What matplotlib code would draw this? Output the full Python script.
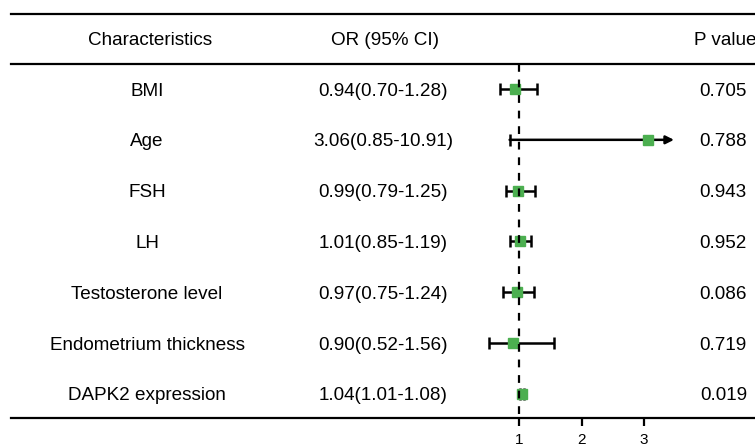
import matplotlib
matplotlib.use("Agg")
import matplotlib.pyplot as plt
from matplotlib.transforms import blended_transform_factory

plt.rcParams['font.family'] = ['Liberation Sans', 'DejaVu Sans']

# data
characteristics = ["BMI", "Age", "FSH", "LH", "Testosterone level",
                   "Endometrium thickness", "DAPK2 expression"]
or_values = [0.94, 3.06, 0.99, 1.01, 0.97, 0.90, 1.04]
ci_low = [0.70, 0.85, 0.79, 0.85, 0.75, 0.52, 1.01]
ci_high = [1.28, 10.91, 1.25, 1.19, 1.24, 1.56, 1.08]
p_values = ["0.705", "0.788", "0.943", "0.952", "0.086", "0.719", "0.019"]
x_ticks = [1, 2, 3]
x_clip = 3.48   # where the long CI is cut off with an arrow

green = "#4caf50"

fig = plt.figure(figsize=(7.55, 4.44), dpi=100)
ax = fig.add_axes([0, 26 / 444, 1, 418 / 444])
ax.set_xlim(-7.304, 4.776)
ax.set_ylim(6.473, -1.751)

for s in ["top", "left", "right"]:
    ax.spines[s].set_visible(False)
ax.spines["bottom"].set_linewidth(1.6)
ax.spines["bottom"].set_bounds(-7.13, 4.776)
ax.set_yticks([])
ax.set_xticks(x_ticks)
ax.tick_params(axis="x", direction="out", length=5.5, width=1.6, pad=5, labelsize=11)

# table rules
ax.plot([-7.13, 4.776], [-1.4755, -1.4755], color="black", lw=1.6, clip_on=False)
ax.plot([-7.13, 4.776], [-0.492, -0.492], color="black", lw=1.6, clip_on=False)

# reference line
ax.plot([1, 1], [-0.492, 6.473], color="black", lw=1.6, ls=(0, (3.5, 3.5)), zorder=5)

tr = blended_transform_factory(ax.transAxes, ax.transData)
fs = 13.6
dy = 0.04  # nudge text to sit level with the markers
ax.text(150 / 755, -1 + dy, "Characteristics", transform=tr, ha="center", va="center", fontsize=fs)
ax.text(385 / 755, -1 + dy, "OR (95% CI)", transform=tr, ha="center", va="center", fontsize=fs)
ax.text(694 / 755, -1 + dy, "P value", transform=tr, ha="left", va="center", fontsize=fs)

for i, name in enumerate(characteristics):
    ax.text(147 / 755, i + dy, name, transform=tr, ha="center", va="center", fontsize=fs)
    ax.text(383 / 755, i + dy, f"{or_values[i]:.2f}({ci_low[i]:.2f}-{ci_high[i]:.2f})",
            transform=tr, ha="center", va="center", fontsize=fs)
    ax.text(747 / 755, i + dy, p_values[i], transform=tr, ha="right", va="center", fontsize=fs)

    if ci_high[i] > x_clip:
        ax.plot([ci_low[i]], [i], marker="|", color="black", ms=9, mew=1.8, zorder=2)
        ax.annotate("", xy=(x_clip, i), xytext=(ci_low[i], i),
                    arrowprops=dict(arrowstyle="-|>", lw=1.8, color="black",
                                    mutation_scale=12, shrinkA=0, shrinkB=0),
                    zorder=2)
    else:
        ax.errorbar(or_values[i], i, xerr=[[or_values[i] - ci_low[i]], [ci_high[i] - or_values[i]]],
                    fmt="none", ecolor="black", elinewidth=1.8, capsize=4.5, capthick=1.8, zorder=2)
    ax.plot(or_values[i], i, marker="s", color=green, ms=7.5, mec=green, zorder=3)

fig.savefig("out.png", dpi=100)
